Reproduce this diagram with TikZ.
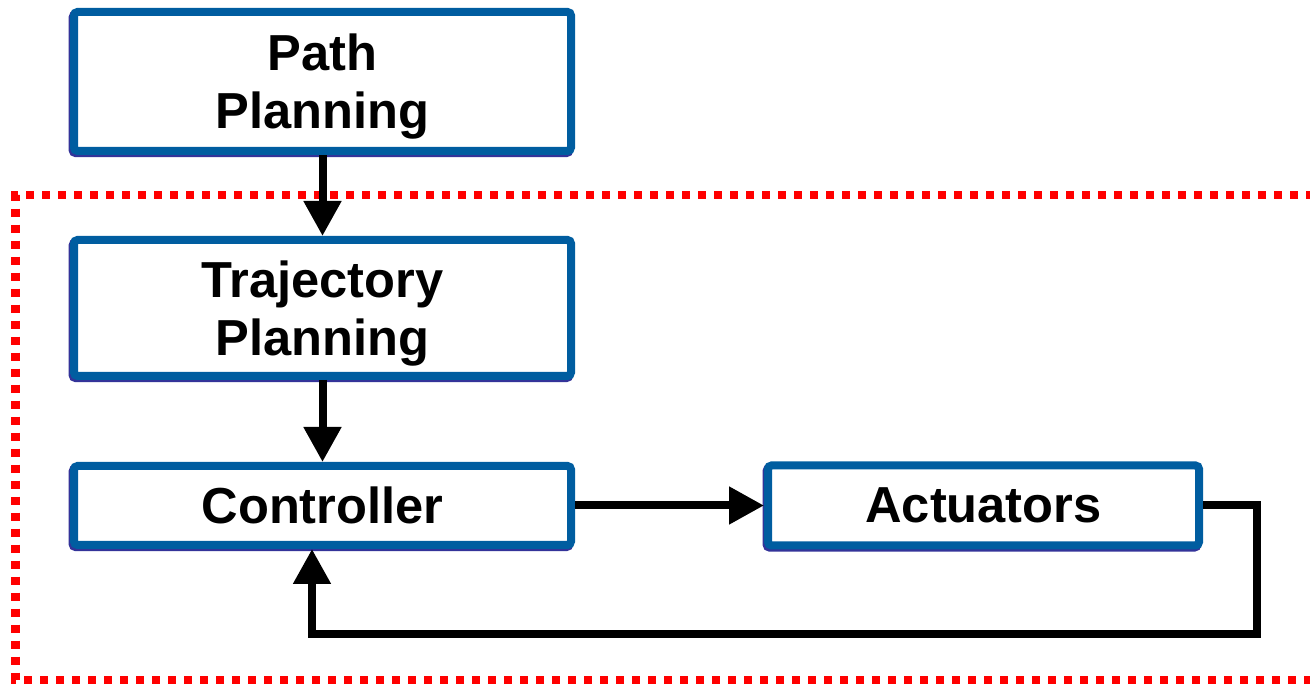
\documentclass[tikz,border=0pt]{standalone}
\usepackage{fontspec}
\setmainfont{Liberation Sans}
\usepackage{xcolor}
\usepackage{tikz}
\usetikzlibrary{arrows.meta, positioning}
\definecolor{boxblue}{RGB}{0,93,160}
\definecolor{boxshade}{RGB}{51,51,153}
\newcommand{\lbl}{\fontsize{28.8}{32.9}\selectfont\bfseries}

\begin{document}
\begin{tikzpicture}[
  node distance = 1.62cm and 3.78cm,
  box/.style   = {draw=boxblue, line width=0.16cm, fill=white, rounded corners=2pt,
                  minimum width=9.94cm, inner sep=0pt, align=center, font=\lbl,
                  text depth=0pt,
                  preaction={draw=boxshade, line width=0.16cm,
                             transform canvas={xshift=-0.03cm, yshift=-0.045cm}}},
  arr/.style   = {-{Triangle[length=0.7cm, width=0.72cm]}, line width=0.16cm, black},
  frame/.style = {draw=red, line width=0.16cm, dash pattern=on 0.16cm off 0.16cm},
]
  \useasboundingbox (0,0) rectangle (26.2,13.68);
  % control loop region
  \draw[frame] (26.6,9.78) -- (0.31,9.78) -- (0.31,0.08) -- (26.6,0.08);
  \node[box, minimum height=2.78cm] (path) at (6.45,12.05) {Path\\Planning};
  \node[box, minimum height=2.72cm, below=of path] (traj) {Trajectory\\Planning};
  \node[box, minimum height=1.58cm, below=1.64cm of traj] (ctrl) {Controller};
  \node[box, minimum height=1.6cm, minimum width=8.62cm, right=of ctrl] (act) {Actuators};
  \coordinate (fb) at (25.14,1.0);
  \draw[arr] (path) -- (traj);
  \draw[arr] (traj) -- (ctrl);
  \draw[arr] (ctrl) -- (act);
  \draw[arr] (act.east) -| (fb) -| ([xshift=-0.21cm]ctrl.south);
\end{tikzpicture}
\end{document}
